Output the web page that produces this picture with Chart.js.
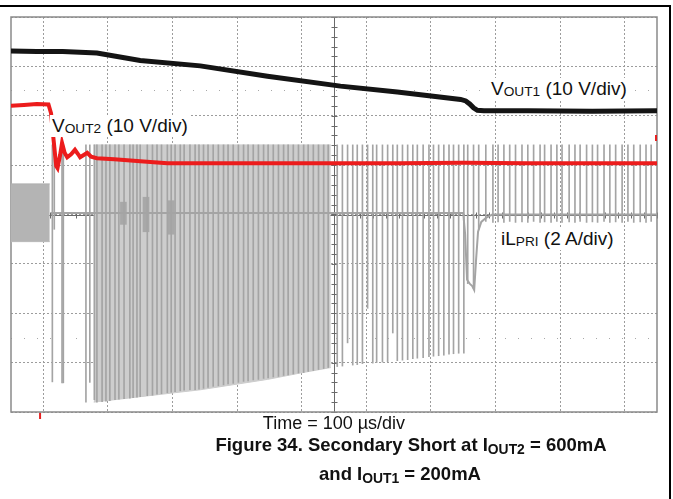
<!DOCTYPE html>
<html>
<head>
<meta charset="utf-8">
<script src="https://cdn.jsdelivr.net/npm/chart.js@4.4.1/dist/chart.umd.min.js"></script>
<style>
  html, body { margin: 0; padding: 0; background: #fff; }
  body { width: 673px; height: 499px; position: relative; overflow: hidden; font-family: "Liberation Sans", Arial, sans-serif; color: #111; }
  #plot { position: absolute; left: 0; top: 0; }
  .rule-top { position: absolute; left: 0; top: 5px; width: 671px; height: 2px; background: #000; }
  .rule-right { position: absolute; left: 669px; top: 5px; width: 2px; height: 494px; background: #000; }
  .lbl { position: absolute; font-size: 19px; line-height: 22px; white-space: nowrap; background: #fff; padding: 0 2px; }
  .lbl sub { font-size: 0.72em; vertical-align: -0.1em; line-height: 0; }
  .xlabel { position: absolute; left: 234px; width: 200px; top: 413px; text-align: center; font-size: 18px; }
  .caption { position: absolute; width: 500px; text-align: center; font-weight: bold; font-size: 18.5px; line-height: 24px; }
  .caption sub { font-size: 0.75em; vertical-align: -0.25em; line-height: 0; }
</style>
</head>
<body>
<div class="rule-top"></div>
<div class="rule-right"></div>
<canvas id="plot" width="673" height="420"></canvas>
<div class="lbl" style="left:489px; top:78px;">V<sub>OUT1</sub> (10 V/div)</div>
<div class="lbl" style="left:50px; top:115px;">V<sub>OUT2</sub> (10 V/div)</div>
<div class="lbl" style="left:499px; top:228px;">iL<sub>PRI</sub> (2 A/div)</div>
<div class="xlabel">Time = 100 µs/div</div>
<div class="caption" style="left:161px; top:433px;">Figure 34. Secondary Short at I<sub>OUT2</sub> = 600mA</div>
<div class="caption" style="left:150px; top:462px;">and I<sub>OUT1</sub> = 200mA</div>
<script>
// time in µs (100 µs/div, 10 div), level in screen divisions (0 = bottom, 8 = top)
const vout1Time = [0, 40, 80, 133, 200, 293, 397, 510, 598, 696, 704, 710, 716, 722, 732, 800, 900, 1000];
const vout1Div  = [7.31, 7.30, 7.30, 7.27, 7.12, 7.01, 6.80, 6.60, 6.48, 6.33, 6.30, 6.24, 6.16, 6.11, 6.10, 6.10, 6.09, 6.10];

const vout2Time = [0, 20, 40, 58, 62, 66, 70, 72, 76, 79, 83, 87, 93, 99, 104, 107, 112, 118, 124, 133, 160, 200, 242, 400, 600, 700, 800, 1000];
const vout2Div  = [6.20, 6.22, 6.24, 6.23, 6.05, 5.50, 4.98, 4.94, 5.20, 5.45, 5.25, 5.16, 5.22, 5.31, 5.22, 5.16, 5.20, 5.25, 5.17, 5.14, 5.12, 5.08, 5.04, 5.04, 5.04, 5.05, 5.04, 5.04];

// primary current, before the short: dense switching band
const preTime   = [0, 60];
const preTop    = [4.62, 4.62];
const preBottom = [3.45, 3.45];

// primary current baseline and the recovery dip
const baseTime = [62, 700, 703, 706, 710, 714, 717, 720, 723, 728, 735, 745, 1000];
const baseDiv  = [4.03, 4.03, 3.60, 2.68, 2.60, 2.55, 2.47, 3.10, 3.65, 3.85, 3.93, 4.00, 4.00];

// spikes after the short: top level and the low end of each spike
const spikeTop = 5.41;
const burstTime = [
  64, 67, 79, 81, 116, 122, 129,
  133, 141, 147, 153, 161, 167, 175, 184, 189, 195,
  200, 211, 219, 226, 233, 242, 248, 254, 262, 268,
  277, 285, 291, 298, 305, 313, 321, 329, 336, 344,
  352, 360, 367, 375, 383, 391, 398, 406, 414, 422,
  429, 437, 445, 453, 460, 468, 476, 484, 491,
  505, 513, 521, 529, 536, 544, 552, 560, 566, 575,
  583, 591, 598, 606, 614, 622, 629, 638, 647, 654,
  662, 670, 678, 685, 693, 701
];
const burstLow = [
  0.61, 3.70, 0.59, 0.59, 0.20, 0.60, 0.25,
  0.20, 0.21, 0.22, 0.23, 0.25, 0.26, 0.27, 0.28, 0.29, 0.30,
  0.31, 0.33, 0.34, 0.36, 0.37, 0.39, 0.40, 0.41, 0.43, 0.44,
  0.45, 0.45, 0.46, 0.48, 0.50, 0.52, 0.53, 0.55, 0.57, 0.58,
  0.60, 0.62, 0.63, 0.65, 0.66, 0.68, 0.69, 0.71, 0.72, 0.74,
  0.75, 0.77, 0.79, 0.80, 0.82, 0.84, 0.86, 0.88, 0.90,
  0.92, 0.93, 1.40, 0.95, 0.96, 0.98, 2.10, 0.99, 1.00, 1.01,
  1.02, 1.60, 1.04, 1.05, 1.06, 1.08, 1.09, 1.10, 1.12, 1.13,
  1.14, 1.15, 1.17, 1.18, 1.19, 1.19
];

// dense part of the burst, drawn as a shaded envelope
const denseTime = [128, 200, 293, 397, 448, 495];
const denseLow  = [0.20, 0.31, 0.45, 0.66, 0.79, 0.90];

// darker clusters on the baseline during the burst
const bulbTime = [174, 209, 248];
const bulbLow  = [3.80, 3.65, 3.60];
const bulbHigh = [4.25, 4.35, 4.28];

// regular spikes once the converter recovers
const ringTime = [
  707, 716, 724, 735, 746, 754, 763, 772, 781, 791,
  800, 809, 819, 826, 836, 845, 853, 864, 873, 881,
  891, 900, 908, 918, 927, 936, 946, 955, 964, 974,
  983, 991
];
const ringLow = [
  2.60, 2.50, 3.70, 3.86, 3.84, 3.85, 3.84, 3.86, 3.84, 3.85,
  3.84, 3.86, 3.84, 3.85, 3.84, 3.86, 3.84, 3.85, 3.84, 3.86,
  3.84, 3.85, 3.84, 3.86, 3.84, 3.85, 3.84, 3.86, 3.84, 3.85,
  3.84, 3.86
];

// dotted cursor rows on the screen, trigger position and CH2 level marker
const cursorLevels = [6.52, 1.50];
const triggerTime = 45;
const ch2Marker = 5.55;

const GRID = "#9c9c9c";
const TRACE_GRAY = "#a4a4a4";

function toPoints (xs, ys) {
  return xs.map((x, i) => ({ x: x, y: ys[i] }));
}

function toBars (xs, lows, highs) {
  return xs.map((x, i) => ({ x: x, y: [lows[i], Array.isArray(highs) ? highs[i] : highs] }));
}

const flatTop = denseTime.map(() => spikeTop);

const scopePlugin = {
  id: "scope",
  beforeDatasetsDraw (chart) {
    const { ctx, chartArea: a, scales: { x, y } } = chart;
    ctx.save();
    // cursor rows
    ctx.strokeStyle = "#a8a8a8";
    ctx.lineWidth = 1;
    ctx.setLineDash([1, 12]);
    cursorLevels.forEach((lvl) => {
      const py = Math.round(y.getPixelForValue(lvl)) + 0.5;
      ctx.beginPath();
      ctx.moveTo(a.left, py);
      ctx.lineTo(a.right, py);
      ctx.stroke();
    });
    ctx.setLineDash([]);
    // minor ticks on the centre axes
    ctx.strokeStyle = "#6a6a6a";
    const cx = Math.round(x.getPixelForValue(500)) + 0.5;
    const cy = Math.round(y.getPixelForValue(4)) + 0.5;
    for (let v = 0; v <= 8.001; v += 0.2) {
      const py = Math.round(y.getPixelForValue(v)) + 0.5;
      ctx.beginPath();
      ctx.moveTo(cx - 3, py);
      ctx.lineTo(cx + 3, py);
      ctx.stroke();
    }
    for (let t = 0; t <= 1000.01; t += 20) {
      const px = Math.round(x.getPixelForValue(t)) + 0.5;
      ctx.beginPath();
      ctx.moveTo(px, cy - 3);
      ctx.lineTo(px, cy + 3);
      ctx.stroke();
    }
    ctx.beginPath();
    ctx.moveTo(cx, a.top);
    ctx.lineTo(cx, a.bottom);
    ctx.moveTo(a.left, cy);
    ctx.lineTo(a.right, cy);
    ctx.stroke();
    // outer frame
    ctx.strokeStyle = "#8a8a8a";
    ctx.lineWidth = 1.5;
    ctx.strokeRect(a.left, a.top, a.right - a.left, a.bottom - a.top);
    // red markers
    ctx.strokeStyle = "#e62020";
    ctx.lineWidth = 2;
    const tx = x.getPixelForValue(triggerTime);
    ctx.beginPath();
    ctx.moveTo(tx, a.bottom + 1);
    ctx.lineTo(tx, a.bottom + 7);
    const my = y.getPixelForValue(ch2Marker);
    ctx.moveTo(a.right - 1, my - 3);
    ctx.lineTo(a.right - 1, my + 3);
    ctx.stroke();
    ctx.restore();
  }
};

let ctx = document.getElementById("plot");
let chart = new Chart(ctx, {
  type: "line",
  data: {
    datasets: [
      {
        label: "VOUT1",
        data: toPoints(vout1Time, vout1Div),
        borderColor: "#141414",
        borderWidth: 5,
        order: 0
      },
      {
        label: "VOUT2",
        data: toPoints(vout2Time, vout2Div),
        borderColor: "#ec1c1c",
        borderWidth: 4,
        order: 1
      },
      {
        type: "bar",
        label: "iLPRI ring",
        data: toBars(ringTime, ringLow, spikeTop),
        backgroundColor: TRACE_GRAY,
        barThickness: 1,
        grouped: false,
        order: 3
      },
      {
        type: "bar",
        label: "iLPRI burst",
        data: toBars(burstTime, burstLow, spikeTop),
        backgroundColor: TRACE_GRAY,
        barThickness: 1,
        grouped: false,
        order: 4
      },
      {
        type: "bar",
        label: "iLPRI clusters",
        data: toBars(bulbTime, bulbLow, bulbHigh),
        backgroundColor: "#a8a8a8",
        barThickness: 6,
        grouped: false,
        order: 4
      },
      {
        label: "iLPRI base",
        data: toPoints(baseTime, baseDiv),
        borderColor: TRACE_GRAY,
        borderWidth: 2,
        order: 2
      },
      {
        label: "iLPRI pre top",
        data: toPoints(preTime, preTop),
        borderColor: "#b0b0b0",
        borderWidth: 1,
        backgroundColor: "#b4b4b4",
        fill: "+1",
        order: 5
      },
      {
        label: "iLPRI pre bottom",
        data: toPoints(preTime, preBottom),
        borderColor: "#c8c8c8",
        borderWidth: 1,
        order: 5
      },
      {
        label: "iLPRI dense top",
        data: toPoints(denseTime, flatTop),
        borderWidth: 1,
        borderColor: "#cccccc",
        backgroundColor: "#cdcdcd",
        fill: "+1",
        order: 6
      },
      {
        label: "iLPRI dense low",
        data: toPoints(denseTime, denseLow),
        borderWidth: 1,
        borderColor: "#cccccc",
        order: 6
      }
    ]
  },
  options: {
    responsive: false,
    animation: false,
    devicePixelRatio: 1,
    layout: { padding: { left: 11, top: 17, right: 16, bottom: 8 } },
    elements: { point: { radius: 0 }, line: { tension: 0 } },
    plugins: { legend: { display: false }, tooltip: { enabled: false } },
    scales: {
      x: {
        type: "linear",
        min: 0,
        max: 1000,
        offset: false,
        ticks: { display: false, stepSize: 100 },
        grid: { color: GRID, drawTicks: false },
        border: { display: false, dash: [2, 2] }
      },
      y: {
        type: "linear",
        min: 0,
        max: 8,
        ticks: { display: false, stepSize: 1 },
        grid: { color: GRID, drawTicks: false },
        border: { display: false, dash: [2, 2] }
      }
    }
  },
  plugins: [scopePlugin]
});
</script>
</body>
</html>
